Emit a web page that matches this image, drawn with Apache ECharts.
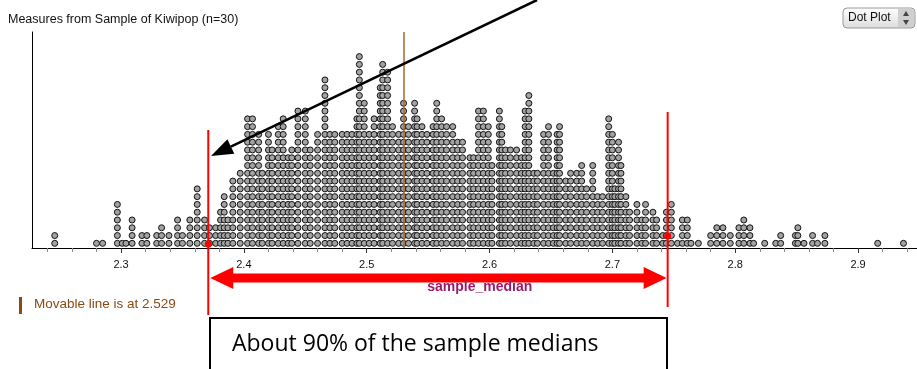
<!DOCTYPE html>
<html lang="en">
<head>
    <meta charset="UTF-8">
    <title>Measures from Sample of Kiwipop</title>
    <script src="https://cdn.jsdelivr.net/npm/echarts@6/dist/echarts.min.js"></script>
    <style>
        html, body { margin: 0; padding: 0; background: #fff; }
        #main { width: 917px; height: 369px; }
    </style>
</head>
<body>
    <div id="main"></div>
    <script type="text/javascript">
        // sample medians (column positions) and how many dots are stacked on each
        var medianValues = [
            2.246, 2.280, 2.285, 2.297, 2.301, 2.304, 2.309, 2.317, 2.321, 2.329,
            2.333, 2.339, 2.346, 2.350, 2.356, 2.362, 2.368, 2.372, 2.377, 2.381,
            2.384, 2.387, 2.391, 2.397, 2.403, 2.407, 2.412, 2.415, 2.420, 2.423,
            2.428, 2.432, 2.436, 2.439, 2.444, 2.450, 2.454, 2.460, 2.466, 2.470,
            2.474, 2.480, 2.484, 2.488, 2.492, 2.494, 2.498, 2.502, 2.506, 2.511,
            2.513, 2.517, 2.521, 2.526, 2.530, 2.534, 2.539, 2.541, 2.545, 2.549,
            2.554, 2.557, 2.561, 2.565, 2.570, 2.574, 2.578, 2.584, 2.587, 2.591,
            2.595, 2.599, 2.602, 2.608, 2.610, 2.613, 2.617, 2.622, 2.626, 2.629,
            2.632, 2.636, 2.639, 2.644, 2.648, 2.652, 2.655, 2.657, 2.662, 2.666,
            2.671, 2.675, 2.679, 2.684, 2.688, 2.692, 2.697, 2.700, 2.702, 2.705,
            2.707, 2.711, 2.714, 2.720, 2.724, 2.727, 2.733, 2.736, 2.741, 2.744,
            2.748, 2.753, 2.757, 2.761, 2.764, 2.770, 2.780, 2.785, 2.790, 2.796,
            2.803, 2.807, 2.812, 2.815, 2.824, 2.833, 2.837, 2.849, 2.851, 2.856,
            2.863, 2.867, 2.873, 2.916, 2.937
        ];
        var dotCounts = [
            2, 1, 1, 6, 1, 1, 4, 2, 2, 2,
            3, 2, 4, 2, 4, 8, 4, 3, 3, 5,
            7, 4, 9, 10, 17, 17, 15, 10, 15, 13,
            16, 17, 12, 13, 18, 18, 13, 15, 22, 15,
            15, 15, 15, 15, 17, 25, 19, 15, 17, 21,
            24, 23, 16, 15, 19, 16, 19, 17, 16, 15,
            16, 19, 17, 16, 16, 14, 14, 12, 12, 18,
            18, 16, 11, 18, 16, 13, 13, 13, 12, 18,
            20, 10, 10, 15, 16, 10, 15, 16, 9, 10,
            10, 11, 8, 11, 7, 7, 17, 15, 8, 14,
            11, 7, 5, 6, 4, 6, 5, 4, 2, 5,
            6, 1, 4, 4, 1, 1, 2, 3, 3, 2,
            3, 4, 3, 1, 1, 1, 2, 2, 3, 1,
            2, 1, 2, 1, 1
        ];
        // tick labels on the axis
        var majorTicks = [2.3, 2.4, 2.5, 2.6, 2.7, 2.8, 2.9];
        // movable line and the 90% interval
        var movableLine = 2.529;
        var intervalEnds = [2.371, 2.745];

        // x range of the plot area
        var XMIN = 2.2275;
        var XMAX = 2.948;
        var PLOT_LEFT = 32;
        var PLOT_WIDTH = 885;
        var PLOT_TOP = 32;
        var PLOT_HEIGHT = 216;
        var pxPerUnit = PLOT_WIDTH / (XMAX - XMIN);

        function gridFor(lo, hi) {
            var left = PLOT_LEFT + (lo - XMIN) * pxPerUnit;
            var right = 917 - (PLOT_LEFT + (hi - XMIN) * pxPerUnit);
            return { left: left, right: right, top: PLOT_TOP, height: PLOT_HEIGHT };
        }

        // stack the dots
        var dots = [];
        medianValues.forEach(function (v, i) {
            for (var n = 1; n <= dotCounts[i]; n++) {
                dots.push([v, n]);
            }
        });

        var hiddenY = function (idx) {
            return {
                gridIndex: idx, type: 'value', min: 0, max: 1,
                axisLine: { show: false }, axisTick: { show: false },
                axisLabel: { show: false }, splitLine: { show: false }
            };
        };

        var option = {
            animation: false,
            backgroundColor: '#fff',
            grid: [
                { left: PLOT_LEFT, top: PLOT_TOP, width: PLOT_WIDTH, height: PLOT_HEIGHT },
                gridFor(2.24, 2.94),
                gridFor(majorTicks[0], majorTicks[majorTicks.length - 1])
            ],
            xAxis: [
                {
                    gridIndex: 0, type: 'value', min: XMIN, max: XMAX,
                    axisLine: { show: true, onZero: false, lineStyle: { color: '#000', width: 1 } },
                    axisTick: { show: false }, axisLabel: { show: false }, splitLine: { show: false }
                },
                {
                    // minor ticks every 0.02
                    gridIndex: 1, type: 'value', min: 2.24, max: 2.94, interval: 0.02,
                    axisLine: { show: false },
                    axisTick: { show: true, length: 4, lineStyle: { color: '#8a8a8a', width: 1 } },
                    axisLabel: { show: false }, splitLine: { show: false }
                },
                {
                    gridIndex: 2, type: 'value', min: 2.3, max: 2.9, interval: 0.1,
                    axisLine: { show: false },
                    axisTick: { show: true, length: 5, lineStyle: { color: '#333', width: 1 } },
                    axisLabel: {
                        show: true, margin: 11, color: '#111', fontSize: 11,
                        fontFamily: 'Liberation Sans, Arial, sans-serif',
                        formatter: function (v) { return v.toFixed(1); }
                    },
                    splitLine: { show: false }
                }
            ],
            yAxis: [
                {
                    gridIndex: 0, type: 'value', min: 0.4, max: 0.4 + PLOT_HEIGHT / 7.78,
                    axisLine: { show: true, onZero: false, lineStyle: { color: '#000', width: 1 } },
                    axisTick: { show: false }, axisLabel: { show: false }, splitLine: { show: false }
                },
                hiddenY(1),
                hiddenY(2)
            ],
            series: [{
                name: 'sample_median',
                type: 'scatter',
                xAxisIndex: 0,
                yAxisIndex: 0,
                symbol: 'circle',
                symbolSize: 6,
                itemStyle: { color: '#a2a2a2', borderColor: '#111', borderWidth: 1, opacity: 1 },
                data: dots,
                markLine: {
                    silent: true,
                    symbol: 'none',
                    label: { show: false },
                    lineStyle: { color: '#a8692f', width: 1.5, type: 'solid' },
                    data: [{ xAxis: movableLine }]
                },
                z: 3
            }]
        };

        var myChart = echarts.init(document.getElementById('main'), null, { renderer: 'canvas' });
        myChart.setOption(option);

        // annotations placed from the axis scale
        var xL = myChart.convertToPixel({ xAxisIndex: 0 }, intervalEnds[0]);
        var xR = myChart.convertToPixel({ xAxisIndex: 0 }, intervalEnds[1]);
        var xName = myChart.convertToPixel({ xAxisIndex: 0 }, 2.592);

        function doubleArrow(x1, x2, y, headLen, headHalf, shaftHalf) {
            return [
                [x1, y], [x1 + headLen, y - headHalf], [x1 + headLen, y - shaftHalf],
                [x2 - headLen, y - shaftHalf], [x2 - headLen, y - headHalf], [x2, y],
                [x2 - headLen, y + headHalf], [x2 - headLen, y + shaftHalf],
                [x1 + headLen, y + shaftHalf], [x1 + headLen, y + headHalf]
            ];
        }

        // black pointer arrow
        var from = [537, 0], tip = [211, 156];
        var dx = tip[0] - from[0], dy = tip[1] - from[1];
        var len = Math.sqrt(dx * dx + dy * dy);
        var ux = dx / len, uy = dy / len;
        var base = [tip[0] - 22 * ux, tip[1] - 22 * uy];
        var head = [
            tip,
            [base[0] + 8 * uy, base[1] - 8 * ux],
            [base[0] - 8 * uy, base[1] + 8 * ux]
        ];

        var graphics = [
            {
                type: 'text', left: 8, top: 13,
                style: { text: 'Measures from Sample of Kiwipop (n=30)', fill: '#111', font: '12.5px "Liberation Sans", Arial, sans-serif' }
            },
            // Dot Plot selector
            {
                type: 'rect', shape: { x: 843, y: 8, width: 72, height: 20, r: 4 },
                style: {
                    fill: new echarts.graphic.LinearGradient(0, 0, 0, 1, [
                        { offset: 0, color: '#ffffff' }, { offset: 1, color: '#dcdcdc' }
                    ]),
                    stroke: '#9a9a9a', lineWidth: 1
                }, z: 10
            },
            {
                type: 'rect', shape: { x: 898, y: 9, width: 16, height: 18, r: [0, 3, 3, 0] },
                style: { fill: '#cfcfcf' }, z: 11
            },
            {
                type: 'polygon', shape: { points: [[906, 11], [903, 16], [909, 16]] },
                style: { fill: '#444' }, z: 12
            },
            {
                type: 'polygon', shape: { points: [[903, 20], [909, 20], [906, 25]] },
                style: { fill: '#444' }, z: 12
            },
            {
                type: 'text', left: 848, top: 12,
                style: { text: 'Dot Plot', fill: '#111', font: '12px "Liberation Sans", Arial, sans-serif' }, z: 12
            },
            // black arrow
            {
                type: 'line', shape: { x1: from[0], y1: from[1], x2: base[0], y2: base[1] },
                style: { stroke: '#000', lineWidth: 2.5 }, z: 20
            },
            {
                type: 'polygon', shape: { points: head }, style: { fill: '#000' }, z: 20
            },
            // interval lines
            {
                type: 'line', shape: { x1: xL, y1: 130, x2: xL, y2: 315 },
                style: { stroke: '#ff0000', lineWidth: 2 }, z: 15
            },
            {
                type: 'line', shape: { x1: xR, y1: 112, x2: xR, y2: 307 },
                style: { stroke: '#ff0000', lineWidth: 2 }, z: 15
            },
            {
                type: 'circle', shape: { cx: xL, cy: 244, r: 3.5 }, style: { fill: '#ff0000' }, z: 16
            },
            {
                type: 'circle', shape: { cx: xR, cy: 236, r: 3.5 }, style: { fill: '#ff0000' }, z: 16
            },
            {
                type: 'polygon', shape: { points: doubleArrow(xL + 2, xR - 1, 278, 23, 11, 4.5) },
                style: { fill: '#ff0000' }, z: 15
            },
            {
                type: 'text', x: xName, y: 287,
                style: {
                    text: 'sample_median', fill: '#9b1a6c', align: 'center', verticalAlign: 'middle',
                    font: 'bold 14px "Liberation Sans", Arial, sans-serif'
                }, z: 16
            },
            // movable line note
            {
                type: 'rect', shape: { x: 19, y: 297, width: 3, height: 17 }, style: { fill: '#8b4a14' }
            },
            {
                type: 'text', left: 34, top: 297,
                style: { text: 'Movable line is at ' + movableLine, fill: '#8b4a14', font: '13.5px "Liberation Sans", Arial, sans-serif' }
            },
            // callout box
            {
                type: 'rect', shape: { x: 210, y: 318, width: 457, height: 70 },
                style: { fill: '#fff', stroke: '#000', lineWidth: 2 }, z: 14
            },
            {
                type: 'text', left: 232, top: 333,
                style: { text: 'About 90% of the sample medians', fill: '#000', font: '23px "Open Sans", sans-serif' }, z: 15
            }
        ];

        myChart.setOption({ graphic: graphics });
    </script>
</body>
</html>
